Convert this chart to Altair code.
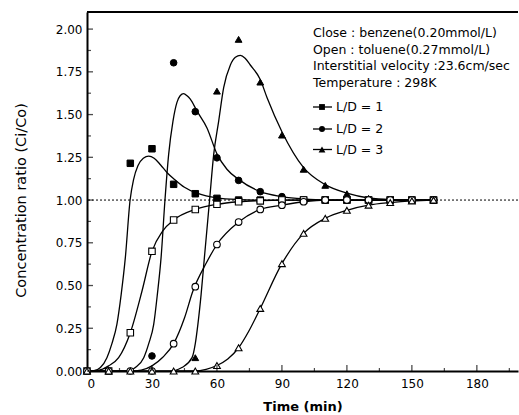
import altair as alt
import pandas as pd

# ---------------- data ----------------
series_names = ["L/D = 1", "L/D = 2", "L/D = 3"]

# benzene (closed markers)
b1_t = [20, 30, 40, 50, 60, 70, 80, 90, 100, 110, 120, 130, 140, 150, 160]
b1_y = [1.215, 1.30, 1.092, 1.037, 1.01, 1.0, 1.0, 1.0, 1.0, 1.0, 1.0, 1.0, 1.0, 1.0, 1.0]
b2_t = [30, 40, 50, 60, 70, 80, 90, 100, 110, 120, 130, 140, 150, 160]
b2_y = [0.088, 1.803, 1.517, 1.247, 1.115, 1.049, 1.02, 1.0, 1.0, 1.0, 1.0, 1.0, 1.0, 1.0]
b3_t = [50, 60, 70, 80, 90, 100, 110, 120, 130, 140, 150, 160]
b3_y = [0.078, 1.637, 1.94, 1.69, 1.38, 1.18, 1.086, 1.037, 1.01, 1.0, 1.0, 1.0]

# toluene (open markers)
o_t = [0, 10, 20, 30, 40, 50, 60, 70, 80, 90, 100, 110, 120, 130, 140, 150, 160]
o1_y = [0, 0, 0.224, 0.70, 0.883, 0.945, 0.975, 0.99, 0.995, 1.0, 1.0, 1.0, 1.0, 1.0, 1.0, 1.0, 1.0]
o2_y = [0, 0, 0, 0, 0.16, 0.493, 0.74, 0.871, 0.945, 0.97, 0.99, 1.0, 1.0, 1.0, 1.0, 1.0, 1.0]
o3_y = [0, 0, 0, 0, 0, 0, 0.032, 0.136, 0.366, 0.628, 0.805, 0.893, 0.94, 0.97, 0.985, 0.995, 1.0]

# fitted curves
cb1_t = [3, 6.2, 9.2, 11.5, 13.8, 15.8, 17.7, 19.9, 21.5, 23.5, 26, 28.5, 31, 34, 37, 40.5, 45, 50.8, 55, 60, 70, 80, 160]
cb1_y = [0, 0.02, 0.078, 0.16, 0.273, 0.45, 0.663, 1.0, 1.12, 1.2, 1.245, 1.257, 1.245, 1.205, 1.16, 1.12, 1.075, 1.04, 1.025, 1.013, 1.003, 1.0, 1.0]
cb2_t = [20, 22.3, 26.2, 28.5, 30.8, 32.5, 34.2, 36, 37.7, 39.7, 41.5, 43, 44.6, 46.2, 47.7, 50.8, 55.4, 60, 64.6, 70, 80, 90, 100, 110, 160]
cb2_y = [0, 0.02, 0.078, 0.16, 0.273, 0.45, 0.663, 1.0, 1.267, 1.462, 1.57, 1.61, 1.622, 1.61, 1.59, 1.52, 1.422, 1.27, 1.18, 1.121, 1.049, 1.02, 1.006, 1.0, 1.0]
cb3_t = [40, 43.8, 48.5, 50, 51.2, 52.7, 54.2, 56.6, 58.5, 60.8, 63.1, 66.2, 68.5, 70.8, 73, 75.4, 80, 83.1, 90, 100, 110, 120, 130, 140, 160]
cb3_y = [0, 0.02, 0.078, 0.16, 0.273, 0.45, 0.663, 1.0, 1.267, 1.462, 1.657, 1.79, 1.835, 1.846, 1.83, 1.79, 1.705, 1.60, 1.40, 1.19, 1.09, 1.04, 1.012, 1.003, 1.0]
co1_t = [0, 5, 10, 14.6, 20, 25.4, 30, 35, 40, 50, 60, 70, 80, 90, 160]
co1_y = [0, 0.003, 0.03, 0.078, 0.224, 0.468, 0.70, 0.82, 0.883, 0.945, 0.975, 0.99, 0.997, 1.0, 1.0]
co2_t = [0, 20, 25, 30, 35, 40, 45, 48.9, 55, 60, 70, 80, 90, 100, 110, 160]
co2_y = [0, 0, 0.005, 0.03, 0.08, 0.16, 0.31, 0.468, 0.63, 0.74, 0.871, 0.945, 0.97, 0.99, 1.0, 1.0]
co3_t = [0, 50, 55, 60, 65, 70, 75, 80, 90, 100, 110, 120, 130, 140, 150, 160]
co3_y = [0, 0, 0.01, 0.032, 0.07, 0.136, 0.24, 0.366, 0.628, 0.805, 0.893, 0.94, 0.97, 0.985, 0.995, 1.0]

header_lines = [
    "Close : benzene(0.20mmol/L)",
    "Open : toluene(0.27mmol/L)",
    "Interstitial velocity :23.6cm/sec",
    "Temperature : 298K",
]

x_label_values = [0, 30, 60, 90, 120, 150, 180]
y_label_values = [0.0, 0.25, 0.5, 0.75, 1.0, 1.25, 1.5, 1.75, 2.0]
x_minor_values = [15, 45, 75, 105, 135, 165, 195]
y_minor_values = [0.125, 0.375, 0.625, 0.875, 1.125, 1.375, 1.625, 1.875]
reference_level = [1.0]

# ---------------- tables ----------------
def frame(ts, ys, series, kind, curve=None):
    return pd.DataFrame({"time": ts, "ratio": ys, "series": series, "kind": kind,
                         "curve": curve or (series + kind)})

markers = pd.concat([
    frame(b1_t, b1_y, series_names[0], "benzene"),
    frame(b2_t, b2_y, series_names[1], "benzene"),
    frame(b3_t, b3_y, series_names[2], "benzene"),
    frame(o_t, o1_y, series_names[0], "toluene"),
    frame(o_t, o2_y, series_names[1], "toluene"),
    frame(o_t, o3_y, series_names[2], "toluene"),
], ignore_index=True)
filled_markers = markers[markers.kind == "benzene"]
open_markers = markers[markers.kind == "toluene"]

curves = pd.concat([
    frame(cb1_t, cb1_y, series_names[0], "benzene"),
    frame(cb2_t, cb2_y, series_names[1], "benzene"),
    frame(cb3_t, cb3_y, series_names[2], "benzene"),
    frame(co1_t, co1_y, series_names[0], "toluene"),
    frame(co2_t, co2_y, series_names[1], "toluene"),
    frame(co3_t, co3_y, series_names[2], "toluene"),
], ignore_index=True)

# ---------------- styling ----------------
W, H = 431, 359
FONT = "DejaVu Sans"
xscale = alt.Scale(domain=[0, 199], nice=False, zero=False)
yscale = alt.Scale(domain=[0, 2.1], nice=False, zero=False)

xaxis = alt.Axis(values=x_label_values, title="Time (min)", format="d",
                 ticks=False, tickSize=0, grid=False, labelPadding=7,
                 labelFont=FONT, labelFontSize=12, labelColor="black",
                 titleFont=FONT, titleFontSize=13, titleFontWeight="bold", titleColor="black",
                 titleX=W / 2, titleY=35, titleBaseline="middle",
                 domainColor="black", domainWidth=2)
yaxis = alt.Axis(values=y_label_values, title="Concentration ratio (Ci/Co)", format=".2f",
                 ticks=False, tickSize=0, grid=False, labelPadding=5,
                 labelFont=FONT, labelFontSize=12, labelColor="black",
                 titleFont=FONT, titleFontSize=14.5, titleFontWeight="normal", titleColor="black",
                 titleX=-66, titleY=188, titleAngle=270, titleAlign="center",
                 titleBaseline="middle",
                 domainColor="black", domainWidth=2)

X = lambda: alt.X("time:Q", scale=xscale, axis=xaxis)
Y = lambda: alt.Y("ratio:Q", scale=yscale, axis=yaxis)

shape_scale = alt.Scale(domain=series_names, range=["square", "circle", "triangle-up"])
size_scale = alt.Scale(domain=series_names, range=[42, 46, 62])

ref = alt.Chart(pd.DataFrame({"ratio": reference_level})).mark_rule(
    color="black", strokeDash=[2, 2], strokeWidth=1
).encode(y=Y())

lines = alt.Chart(curves).mark_line(
    interpolate="monotone", color="black", strokeWidth=1.3
).encode(x=X(), y=Y(), detail="curve:N", order="time:Q")

filled_pts = alt.Chart(filled_markers).mark_point(
    filled=True, fill="black", stroke="black", strokeWidth=1, opacity=1
).encode(
    x=X(), y=Y(),
    shape=alt.Shape("series:N", scale=shape_scale, legend=None),
    size=alt.Size("series:N", scale=size_scale, legend=None),
)

open_pts = alt.Chart(open_markers).mark_point(
    filled=True, fill="white", stroke="black", strokeWidth=1.1, opacity=1
).encode(
    x=X(), y=Y(),
    shape=alt.Shape("series:N", scale=shape_scale, legend=None),
    size=alt.Size("series:N", scale=size_scale, legend=None),
)

y_major_ticks = alt.Chart(pd.DataFrame({"ratio": y_label_values})).mark_tick(
    orient="horizontal", color="black", size=6, thickness=1.3
).encode(y=Y(), x=alt.value(3))
y_minor_ticks = alt.Chart(pd.DataFrame({"ratio": y_minor_values})).mark_tick(
    orient="horizontal", color="black", size=4, thickness=1.2
).encode(y=Y(), x=alt.value(2))
x_major_ticks = alt.Chart(pd.DataFrame({"time": x_label_values[1:]})).mark_tick(
    orient="vertical", color="black", size=6, thickness=1.3
).encode(x=X(), y=alt.value(H - 3))
x_minor_ticks = alt.Chart(pd.DataFrame({"time": x_minor_values})).mark_tick(
    orient="vertical", color="black", size=3, thickness=1.2
).encode(x=X(), y=alt.value(H - 1.5))

one = pd.DataFrame({"k": [0]})
top_border = alt.Chart(one).mark_rule(color="black", strokeWidth=2).encode(
    x=alt.value(0), x2=alt.value(W), y=alt.value(0)
)

legend_layers = []
header_y = [21, 37.5, 54, 70.5]
for txt, yy in zip(header_lines, header_y):
    legend_layers.append(
        alt.Chart(one).mark_text(align="left", baseline="middle", font=FONT,
                                 fontSize=12.5, color="black")
        .encode(x=alt.value(226), y=alt.value(yy), text=alt.value(txt))
    )
entry_y = [95, 117, 137.5]
entry_shapes = ["square", "circle", "triangle-up"]
entry_sizes = [34, 36, 46]
for name, yy, shp, sz in zip(series_names, entry_y, entry_shapes, entry_sizes):
    legend_layers.append(
        alt.Chart(one).mark_rule(color="black", strokeWidth=1.3)
        .encode(x=alt.value(226), x2=alt.value(245), y=alt.value(yy))
    )
    legend_layers.append(
        alt.Chart(one).mark_point(shape=shp, filled=True, color="black", size=sz, opacity=1)
        .encode(x=alt.value(235), y=alt.value(yy))
    )
    legend_layers.append(
        alt.Chart(one).mark_text(align="left", baseline="middle", font=FONT,
                                 fontSize=12.5, color="black")
        .encode(x=alt.value(249), y=alt.value(yy), text=alt.value(name))
    )

chart = alt.layer(
    ref, lines, filled_pts, open_pts,
    y_major_ticks, y_minor_ticks, x_major_ticks, x_minor_ticks,
    top_border, *legend_layers
).properties(
    width=W, height=H,
    autosize=alt.AutoSizeParams(type="none"),
    padding={"left": 87, "top": 12, "right": 1, "bottom": 44},
    background="white",
).configure_view(stroke=None)

chart.save("out.html", embed_options={"renderer": "svg", "actions": False})
